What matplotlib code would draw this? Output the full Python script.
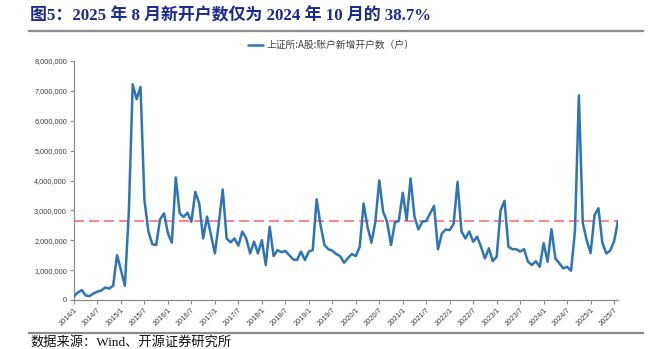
import matplotlib
matplotlib.use("Agg")
import matplotlib.pyplot as plt
from matplotlib.lines import Line2D
from matplotlib.ticker import FuncFormatter, MultipleLocator

CJK = "Noto Sans CJK SC"

# 上证所 A 股每月新增开户数（万户），2014/1 - 2025/8
new_accounts_wan = [
    13, 25, 33, 15, 13, 22, 28, 32, 42, 38, 48, 150,
    100, 48, 290, 722, 672, 713, 334, 230, 187, 184, 270, 290,
    223, 192, 410, 290, 278, 292, 262, 362, 323, 206, 279, 217,
    156, 256, 370, 206, 193, 206, 182, 229, 206, 156, 195, 156,
    200, 117, 245, 147, 167, 160, 164, 150, 136, 134, 162, 134,
    162, 167, 337, 250, 184, 170, 165, 154, 147, 125, 140, 154,
    147, 178, 323, 245, 192, 262, 400, 295, 262, 184, 259, 265,
    359, 268, 407, 279, 236, 262, 265, 290, 315, 170, 223, 236,
    234, 255, 395, 230, 206, 229, 195, 212, 178, 139, 173, 130,
    145, 300, 332, 178, 170, 170, 162, 170, 128, 117, 130, 111,
    190, 128, 237, 139, 123, 106, 111, 98, 230, 685, 258, 200,
    157, 284, 307, 192, 156, 165, 196, 265,
]
accounts = [v * 10000 for v in new_accounts_wan]
months = list(range(len(accounts)))

tick_labels = [f"{2014 + i // 2}/{1 if i % 2 == 0 else 7}" for i in range(24)]
tick_pos = [i * 6 for i in range(24)]

title = "图5：2025 年 8 月新开户数仅为 2024 年 10 月的 38.7%"
series_name = "上证所:A股:账户新增开户数（户）"
source = "数据来源：Wind、开源证券研究所"

# 2025/8 占 2024/10 的比例对应的参考线
ref_level = accounts[-1]

fig = plt.figure(figsize=(6.64, 3.49), dpi=100)
ax = fig.add_axes([74 / 664, 49 / 349, 544 / 664, 239 / 349])

ax.plot(months, accounts, color="#2E75B6", lw=1.8, solid_joinstyle="round",
        solid_capstyle="round", label=series_name, zorder=3)
ax.plot([months[0], months[-1]], [ref_level, ref_level], color="#FF6F6F",
        lw=1.2, dashes=(6, 3), zorder=2)

ax.set_xlim(0, months[-1])
ax.set_ylim(0, 8_000_000)
ax.yaxis.set_major_locator(MultipleLocator(1_000_000))
ax.yaxis.set_major_formatter(FuncFormatter(lambda v, _: f"{v:,.0f}"))
ax.set_xticks(tick_pos)
ax.set_xticklabels(tick_labels, rotation=45, ha="right", va="top",
                   rotation_mode="anchor")

for side in ("top", "right"):
    ax.spines[side].set_visible(False)
for side in ("left", "bottom"):
    ax.spines[side].set_color("#8c8c8c")
    ax.spines[side].set_linewidth(0.9)
ax.tick_params(axis="both", colors="#8c8c8c", length=3, width=0.8,
               labelcolor="#404040", labelsize=5.3, pad=2)
for lbl in ax.get_xticklabels() + ax.get_yticklabels():
    lbl.set_family("Liberation Sans")

leg = ax.legend(loc="center", bbox_to_anchor=(331 / 664, 1 - 45 / 349),
                bbox_transform=fig.transFigure, frameon=False,
                handlelength=1.6, handletextpad=0.3,
                prop={"family": [CJK], "size": 7})
for t in leg.get_texts():
    t.set_color("#404040")

fig.text(30 / 664, 1 - 16 / 349, title, ha="left", va="center",
         family=["Liberation Serif", CJK], weight="bold", size=12.2,
         color="#1b2a8f")
fig.add_artist(Line2D([29 / 664, 643 / 664], [1 - 31 / 349, 1 - 31 / 349],
                      color="#8c8c8c", lw=1.6))
fig.add_artist(Line2D([29 / 664, 643 / 664], [1 - 333 / 349, 1 - 333 / 349],
                      color="#8c8c8c", lw=1.6))
fig.text(30 / 664, 1 - 335.5 / 349, source, ha="left", va="top",
         family=["Liberation Serif", CJK], size=9.5, color="#111111")

fig.savefig("out.png", dpi=100)
